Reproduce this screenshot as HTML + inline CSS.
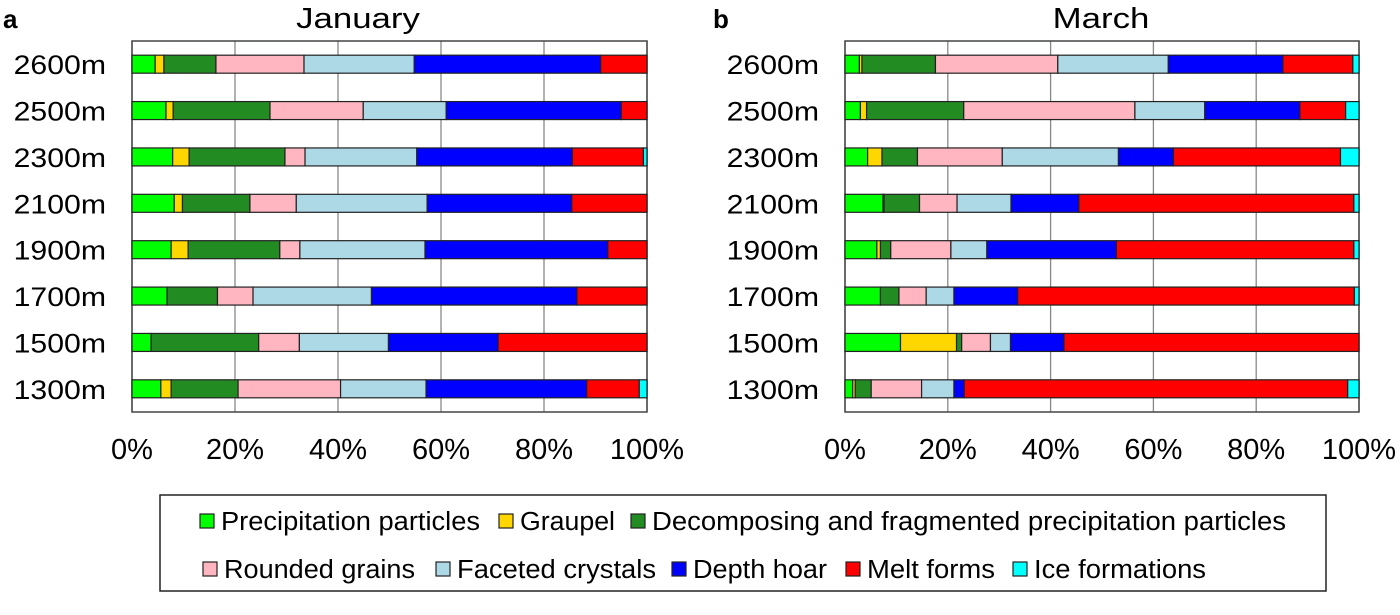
<!DOCTYPE html>
<html><head><meta charset="utf-8"><style>
body{margin:0;background:#fff;width:1400px;height:610px;overflow:hidden;font-family:"Liberation Sans",Arial,sans-serif}
</style></head><body>
<svg id="c" width="1400" height="610" xmlns="http://www.w3.org/2000/svg" font-family="Liberation Sans, Arial, sans-serif"></svg>
<script>
const heights=["2600m","2500m","2300m","2100m","1900m","1700m","1500m","1300m"];
const categories=["Precipitation particles","Graupel","Decomposing and fragmented precipitation particles","Rounded grains","Faceted crystals","Depth hoar","Melt forms","Ice formations"];
const colors=["#00ff00","#ffd700","#228b22","#ffb6c1","#add8e6","#0000ff","#ff0000","#00ffff"];
const janValues=[
[4.5,1.7,10.1,17.1,21.4,36.2,9.0,0],
[6.6,1.4,18.8,18.1,16.1,34.0,5.0,0],
[7.9,3.2,18.6,3.9,21.7,30.2,13.8,0.7],
[8.2,1.6,13.1,9.0,25.4,28.1,14.6,0],
[7.6,3.3,17.8,3.9,24.3,35.5,7.6,0],
[6.8,0,9.8,6.9,23.0,39.9,13.6,0],
[3.7,0,20.9,7.9,17.3,21.3,28.9,0],
[5.6,2.0,13.0,19.9,16.6,31.2,10.2,1.5]];
const marValues=[
[2.8,0.5,14.3,23.8,21.5,22.3,13.6,1.2],
[3.0,1.2,18.9,33.3,13.6,18.5,8.9,2.6],
[4.4,2.8,6.9,16.5,22.6,10.7,32.5,3.6],
[7.4,0.2,6.9,7.3,10.5,13.2,53.5,1.0],
[6.2,0.7,2.0,11.7,7.0,25.2,46.2,1.0],
[6.9,0,3.6,5.3,5.4,12.4,65.5,0.9],
[10.8,10.9,1.0,5.6,3.9,10.4,57.4,0],
[1.5,0.5,3.1,9.8,6.3,2.0,74.6,2.2]];
const xTicks=[0,20,40,60,80,100];
const svg=document.getElementById('c');
const NS="http://www.w3.org/2000/svg";
function mk(tag,attrs,parent){const e=document.createElementNS(NS,tag);for(const k in attrs)e.setAttribute(k,attrs[k]);(parent||svg).appendChild(e);return e;}
function stretch(el,f){const w=el.getComputedTextLength();el.setAttribute('textLength',(w*f).toFixed(1));el.setAttribute('lengthAdjust','spacingAndGlyphs');}
function panel(x0,x1,title,titleX,letter,letterX,data,key){
  const y0=41,y1=412;
  const g=mk('g',{});
  
  
  const xs=v=>x0+(x1-x0)*v/100;
  const band=(y1-y0)/heights.length;
  const yc=i=>y0+band*(i+0.5);
  xTicks.forEach(t=>{
    const l=mk('line',{x1:xs(t),x2:xs(t),y1:y0,y2:y1,stroke:'#888','stroke-width':1.3},g);
    
    
    const tx=mk('text',{x:xs(t),y:459,'font-size':29,'text-anchor':'middle',fill:'#000'},g);
    tx.textContent=t+'%';
    
    
  });
  const fr=mk('rect',{x:x0,y:y0,width:x1-x0,height:y1-y0,fill:'none',stroke:'#444','stroke-width':1.5},g);
  
  
  data.forEach((row,i)=>{
    let cum=0;
    row.forEach((v,j)=>{
      if(v>0){
        const r=mk('rect',{x:xs(cum),y:yc(i)-9,width:xs(cum+v)-xs(cum),height:18,fill:colors[j],stroke:'#222','stroke-width':1.2},g);
        
        
      }
      cum+=v;
    });
    const lb=mk('text',{x:x0-26,y:yc(i)+10,'font-size':26.5,'text-anchor':'end',fill:'#000'},g);
    lb.textContent=heights[i];
    
    
    stretch(lb,1.14);
  });
  const t=mk('text',{x:titleX,y:28,'font-size':29,'text-anchor':'middle',fill:'#000'},g);
  t.textContent=title;
  
  
  stretch(t,1.2);
  const lt=mk('text',{x:letterX,y:28,'font-size':26,'font-weight':'bold',fill:'#000'},g);
  lt.textContent=letter;
  
  
}
panel(132,647,'January',358,'a',3,janValues,'january');
panel(845,1359,'March',1101,'b',713,marValues,'march');
// legend
const lg=mk('g',{});


mk('rect',{x:160,y:495,width:1166,height:96,fill:'#fff',stroke:'#222','stroke-width':1.5},lg);
const legX=[221,520,652,224,457,693,867,1034];
const legY=[530,530,530,578,578,578,578,578];
const legW=[259,95,634,191,199,134,128,172];
categories.forEach((c,i)=>{
  const x=legX[i],y=legY[i];
  const s=mk('rect',{x:x-21,y:y-16,width:14,height:14,fill:colors[i],stroke:'#222','stroke-width':1.2},lg);
  
  
  const t=mk('text',{x:x,y:y,'font-size':25.5,fill:'#000',textLength:legW[i],lengthAdjust:'spacingAndGlyphs'},lg);
  t.textContent=c;
  
  
});
</script>
</body></html>
